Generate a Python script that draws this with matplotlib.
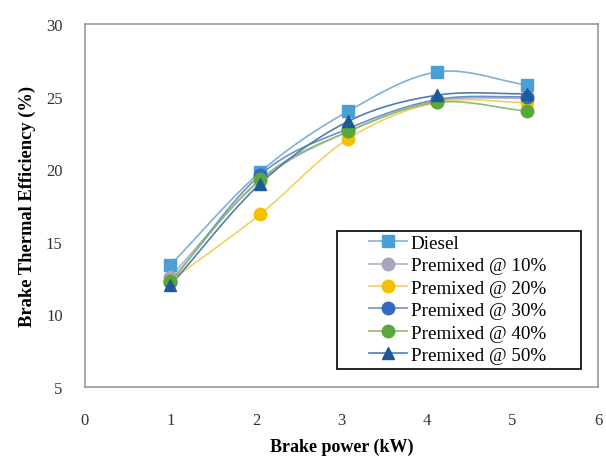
import numpy as np
import matplotlib
matplotlib.use("Agg")
import matplotlib.pyplot as plt
from matplotlib.patches import Rectangle

brake_power = [1.0, 2.05, 3.08, 4.12, 5.17]
diesel = [13.4, 19.8, 24.0, 26.7, 25.8]
pm10 = [12.6, 19.2, 22.6, 24.7, 24.9]
pm20 = [12.3, 16.9, 22.1, 24.6, 24.6]
pm30 = [12.2, 19.6, 22.8, 24.8, 25.0]
pm40 = [12.3, 19.3, 22.6, 24.6, 24.0]
pm50 = [12.0, 19.0, 23.3, 25.1, 25.2]
labels = ["Diesel", "Premixed @ 10%", "Premixed @ 20%", "Premixed @ 30%",
          "Premixed @ 40%", "Premixed @ 50%"]
x_ticks = [0, 1, 2, 3, 4, 5, 6]
y_ticks = [5, 10, 15, 20, 25, 30]

series = [diesel, pm10, pm20, pm30, pm40, pm50]
colors = ["#4a9fd6", "#a8a4bc", "#f2c200", "#3568c0", "#5aa83a", "#1f5a98"]
line_colors = ["#7fb0d8", "#b0b0c4", "#f3d060", "#6f8fc8", "#8cbf70", "#4f7fb0"]
markers = ["s", "o", "o", "o", "o", "^"]


def smooth(xs, ys, n=30, t=0.5):
    # Catmull-Rom style smoothing for drawing (like Excel smoothed line)
    xs = np.asarray(xs, float); ys = np.asarray(ys, float)
    px = np.concatenate([[2*xs[0]-xs[1]], xs, [2*xs[-1]-xs[-2]]])
    py = np.concatenate([[2*ys[0]-ys[1]], ys, [2*ys[-1]-ys[-2]]])
    ox, oy = [], []
    for i in range(1, len(px)-2):
        p0 = np.array([px[i-1], py[i-1]]); p1 = np.array([px[i], py[i]])
        p2 = np.array([px[i+1], py[i+1]]); p3 = np.array([px[i+2], py[i+2]])
        c1 = p1 + (p2 - p0) * t / 3
        c2 = p2 - (p3 - p1) * t / 3
        s = np.linspace(0, 1, n)[:, None]
        b = (1-s)**3*p1 + 3*(1-s)**2*s*c1 + 3*(1-s)*s**2*c2 + s**3*p2
        ox.extend(b[:, 0]); oy.extend(b[:, 1])
    return ox, oy


fig = plt.figure(figsize=(6.06, 4.64), dpi=100)
ax = fig.add_axes([0.140, 0.164, 0.847, 0.782])

handles = []
for ys, c, lc, m, lab in zip(series, colors, line_colors, markers, labels):
    sx, sy = smooth(brake_power, ys)
    ax.plot(sx, sy, color=lc, lw=1.2, zorder=2)
    ax.plot(brake_power, ys, linestyle="none", marker=m, ms=9, color=c,
            markeredgecolor=c, zorder=3)
    h, = ax.plot([], [], color=lc, lw=1.2, marker=m, ms=9,
                 markerfacecolor=c, markeredgecolor=c)
    handles.append(h)

ax.set_xlim(0, 6)
ax.set_ylim(5, 30)
ax.set_xticks(x_ticks)
ax.set_yticks(y_ticks)
ax.tick_params(length=0, labelsize=12)
ax.tick_params(axis="x", pad=18)
ax.tick_params(axis="y", pad=16)
for lab in ax.get_xticklabels() + ax.get_yticklabels():
    lab.set_fontfamily("Liberation Serif")
    lab.set_color("#333333")
for sp in ax.spines.values():
    sp.set_color("#999999")
    sp.set_linewidth(1.2)

ax.set_xlabel("Brake power (kW)", fontfamily="Liberation Serif", fontweight="bold",
              fontsize=13, labelpad=7)
ax.set_ylabel("Brake Thermal Efficiency (%)", fontfamily="Liberation Serif",
              fontweight="bold", fontsize=13.3, labelpad=7)

# legend box (Excel-style, with wide left margin)
ax.add_patch(Rectangle((0.491, 0.050), 0.476, 0.380, transform=ax.transAxes,
                       facecolor="white", edgecolor="black", lw=1.2, zorder=4))
leg = ax.legend(handles, labels, loc="upper left", bbox_to_anchor=(0.553, 0.42),
                prop={"family": "Liberation Serif", "size": 13.8},
                frameon=False, handlelength=2.0, handletextpad=0.2,
                labelspacing=0.26, borderpad=0.0, borderaxespad=0)
leg.set_zorder(5)

fig.savefig("out.png", dpi=100)
